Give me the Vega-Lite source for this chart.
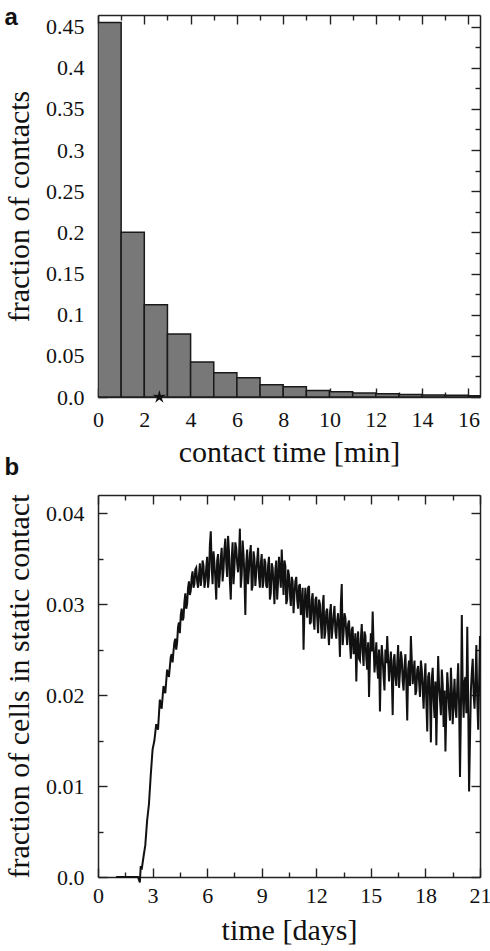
{
  "$schema": "https://vega.github.io/schema/vega-lite/v6.json",
  "padding": {"left": 4, "top": 6, "right": 0, "bottom": 0},
  "spacing": 98,
  "bounds": "flush",
  "config": {
    "view": {"stroke": null},
    "style": {"guide-label": {"font": "Liberation Serif", "fontSize": 22, "fill": "#111"}},
    "axis": {
      "domainColor": "#222",
      "domainWidth": 1.5,
      "tickColor": "#222",
      "tickWidth": 1.4,
      "grid": false,
      "minExtent": 0,
      "labelFont": "Liberation Serif",
      "labelFontSize": 22,
      "labelColor": "#111",
      "labelFlush": false,
      "labelOverlap": false,
      "labelBound": false,
      "titleFont": "Liberation Serif",
      "titleFontSize": 30,
      "titleFontWeight": "normal",
      "titleColor": "#111"
    }
  },
  "datasets": {
    "bars": [
      {"start": 0, "end": 1, "frac": 0.455},
      {"start": 1, "end": 2, "frac": 0.2},
      {"start": 2, "end": 3, "frac": 0.112},
      {"start": 3, "end": 4, "frac": 0.0765},
      {"start": 4, "end": 5, "frac": 0.0425},
      {"start": 5, "end": 6, "frac": 0.0295},
      {"start": 6, "end": 7, "frac": 0.0234},
      {"start": 7, "end": 8, "frac": 0.015},
      {"start": 8, "end": 9, "frac": 0.0125},
      {"start": 9, "end": 10, "frac": 0.008},
      {"start": 10, "end": 11, "frac": 0.0064},
      {"start": 11, "end": 12, "frac": 0.005},
      {"start": 12, "end": 13, "frac": 0.004},
      {"start": 13, "end": 14, "frac": 0.003},
      {"start": 14, "end": 15, "frac": 0.0025},
      {"start": 15, "end": 16, "frac": 0.002},
      {"start": 16, "end": 17, "frac": 0.0015}
    ],
    "star": [{"t": 2.65, "v": 0}],
    "series": [
      {"t": 1.0, "f": 0}, {"t": 1.2, "f": 0}, {"t": 1.4, "f": 0}, {"t": 1.6, "f": 0}, {"t": 1.8, "f": 0}, {"t": 2.0, "f": 0}, {"t": 2.1, "f": 0}, {"t": 2.2, "f": 0},
      {"t": 2.3, "f": -0.0006}, {"t": 2.35, "f": 0.0012}, {"t": 2.4, "f": 0.0008}, {"t": 2.5, "f": 0.0022}, {"t": 2.6, "f": 0.0035}, {"t": 2.7, "f": 0.0062}, {"t": 2.8, "f": 0.008}, {"t": 2.9, "f": 0.0112},
      {"t": 3.0, "f": 0.014}, {"t": 3.1, "f": 0.015}, {"t": 3.2, "f": 0.0168}, {"t": 3.3, "f": 0.0162}, {"t": 3.4, "f": 0.0195}, {"t": 3.5, "f": 0.0185}, {"t": 3.6, "f": 0.021}, {"t": 3.7, "f": 0.0202}, {"t": 3.8, "f": 0.0228}, {"t": 3.9, "f": 0.022},
      {"t": 4.0, "f": 0.0242}, {"t": 4.1, "f": 0.0236}, {"t": 4.2, "f": 0.0258}, {"t": 4.3, "f": 0.025}, {"t": 4.4, "f": 0.0275}, {"t": 4.5, "f": 0.0268}, {"t": 4.6, "f": 0.0295}, {"t": 4.7, "f": 0.0285}, {"t": 4.8, "f": 0.0312}, {"t": 4.9, "f": 0.03},
      {"t": 5.0, "f": 0.0325}, {"t": 5.1, "f": 0.0315}, {"t": 5.2, "f": 0.0336}, {"t": 5.3, "f": 0.0322}, {"t": 5.4, "f": 0.034}, {"t": 5.5, "f": 0.0318}, {"t": 5.6, "f": 0.0345}, {"t": 5.7, "f": 0.033}, {"t": 5.8, "f": 0.0342}, {"t": 5.9, "f": 0.0325},
      {"t": 6.0, "f": 0.0352}, {"t": 6.1, "f": 0.033}, {"t": 6.2, "f": 0.038}, {"t": 6.3, "f": 0.0322}, {"t": 6.4, "f": 0.0345}, {"t": 6.5, "f": 0.0305}, {"t": 6.6, "f": 0.0355}, {"t": 6.7, "f": 0.0332}, {"t": 6.8, "f": 0.0362}, {"t": 6.9, "f": 0.0338},
      {"t": 7.0, "f": 0.0372}, {"t": 7.1, "f": 0.033}, {"t": 7.2, "f": 0.0358}, {"t": 7.3, "f": 0.0305}, {"t": 7.4, "f": 0.0368}, {"t": 7.5, "f": 0.034}, {"t": 7.6, "f": 0.0362}, {"t": 7.7, "f": 0.0335}, {"t": 7.8, "f": 0.0383}, {"t": 7.9, "f": 0.0332},
      {"t": 8.0, "f": 0.0355}, {"t": 8.1, "f": 0.0288}, {"t": 8.2, "f": 0.036}, {"t": 8.3, "f": 0.0338}, {"t": 8.4, "f": 0.0365}, {"t": 8.5, "f": 0.032}, {"t": 8.6, "f": 0.035}, {"t": 8.7, "f": 0.0335}, {"t": 8.8, "f": 0.0362}, {"t": 8.9, "f": 0.0318},
      {"t": 9.0, "f": 0.0355}, {"t": 9.1, "f": 0.0325}, {"t": 9.2, "f": 0.0345}, {"t": 9.3, "f": 0.0318}, {"t": 9.4, "f": 0.0352}, {"t": 9.5, "f": 0.0312}, {"t": 9.6, "f": 0.034}, {"t": 9.7, "f": 0.03}, {"t": 9.8, "f": 0.0348}, {"t": 9.9, "f": 0.0325},
      {"t": 10.0, "f": 0.0335}, {"t": 10.1, "f": 0.036}, {"t": 10.2, "f": 0.031}, {"t": 10.3, "f": 0.0342}, {"t": 10.4, "f": 0.0305}, {"t": 10.5, "f": 0.0332}, {"t": 10.6, "f": 0.0298}, {"t": 10.7, "f": 0.0325}, {"t": 10.8, "f": 0.031}, {"t": 10.9, "f": 0.033},
      {"t": 11.0, "f": 0.0295}, {"t": 11.1, "f": 0.0322}, {"t": 11.2, "f": 0.03}, {"t": 11.3, "f": 0.025}, {"t": 11.4, "f": 0.0318}, {"t": 11.5, "f": 0.0285}, {"t": 11.6, "f": 0.032}, {"t": 11.7, "f": 0.028}, {"t": 11.8, "f": 0.0312}, {"t": 11.9, "f": 0.0272},
      {"t": 12.0, "f": 0.0308}, {"t": 12.1, "f": 0.0268}, {"t": 12.2, "f": 0.03}, {"t": 12.3, "f": 0.0262}, {"t": 12.4, "f": 0.031}, {"t": 12.5, "f": 0.027}, {"t": 12.6, "f": 0.0295}, {"t": 12.7, "f": 0.0255}, {"t": 12.8, "f": 0.03}, {"t": 12.9, "f": 0.0275},
      {"t": 13.0, "f": 0.0298}, {"t": 13.1, "f": 0.0262}, {"t": 13.2, "f": 0.029}, {"t": 13.3, "f": 0.0242}, {"t": 13.4, "f": 0.0322}, {"t": 13.5, "f": 0.0268}, {"t": 13.6, "f": 0.0285}, {"t": 13.7, "f": 0.0255}, {"t": 13.8, "f": 0.0282}, {"t": 13.9, "f": 0.024},
      {"t": 14.0, "f": 0.0275}, {"t": 14.1, "f": 0.025}, {"t": 14.2, "f": 0.0215}, {"t": 14.3, "f": 0.027}, {"t": 14.4, "f": 0.0238}, {"t": 14.5, "f": 0.0278}, {"t": 14.6, "f": 0.0232}, {"t": 14.7, "f": 0.0265}, {"t": 14.8, "f": 0.0228}, {"t": 14.9, "f": 0.0198},
      {"t": 15.0, "f": 0.0268}, {"t": 15.1, "f": 0.0292}, {"t": 15.2, "f": 0.0225}, {"t": 15.3, "f": 0.0258}, {"t": 15.4, "f": 0.0218}, {"t": 15.5, "f": 0.0182}, {"t": 15.6, "f": 0.0255}, {"t": 15.7, "f": 0.022}, {"t": 15.8, "f": 0.025}, {"t": 15.9, "f": 0.0265},
      {"t": 16.0, "f": 0.0215}, {"t": 16.1, "f": 0.0248}, {"t": 16.2, "f": 0.0178}, {"t": 16.3, "f": 0.0245}, {"t": 16.4, "f": 0.021}, {"t": 16.5, "f": 0.0255}, {"t": 16.6, "f": 0.0225}, {"t": 16.7, "f": 0.024}, {"t": 16.8, "f": 0.0205}, {"t": 16.9, "f": 0.0245},
      {"t": 17.0, "f": 0.0172}, {"t": 17.1, "f": 0.0238}, {"t": 17.2, "f": 0.0265}, {"t": 17.3, "f": 0.0212}, {"t": 17.4, "f": 0.0238}, {"t": 17.5, "f": 0.0205}, {"t": 17.6, "f": 0.0232}, {"t": 17.7, "f": 0.0198}, {"t": 17.8, "f": 0.0228}, {"t": 17.9, "f": 0.0185},
      {"t": 18.0, "f": 0.0235}, {"t": 18.1, "f": 0.016}, {"t": 18.2, "f": 0.0225}, {"t": 18.3, "f": 0.0148}, {"t": 18.4, "f": 0.023}, {"t": 18.5, "f": 0.0175}, {"t": 18.6, "f": 0.0145}, {"t": 18.7, "f": 0.0243}, {"t": 18.8, "f": 0.0195}, {"t": 18.9, "f": 0.0228},
      {"t": 19.0, "f": 0.0165}, {"t": 19.1, "f": 0.0138}, {"t": 19.2, "f": 0.0225}, {"t": 19.3, "f": 0.0185}, {"t": 19.4, "f": 0.023}, {"t": 19.5, "f": 0.0168}, {"t": 19.6, "f": 0.0218}, {"t": 19.7, "f": 0.0175}, {"t": 19.8, "f": 0.0235}, {"t": 19.9, "f": 0.011},
      {"t": 20.0, "f": 0.0288}, {"t": 20.1, "f": 0.0175}, {"t": 20.2, "f": 0.022}, {"t": 20.3, "f": 0.0275}, {"t": 20.4, "f": 0.0094}, {"t": 20.5, "f": 0.0205}, {"t": 20.6, "f": 0.024}, {"t": 20.7, "f": 0.0185}, {"t": 20.8, "f": 0.0255}, {"t": 20.9, "f": 0.0162},
      {"t": 21.0, "f": 0.0265},
      {"t": 4.05, "f": 0.0245}, {"t": 4.15, "f": 0.0248}, {"t": 4.25, "f": 0.0262}, {"t": 4.35, "f": 0.0258}, {"t": 4.45, "f": 0.028}, {"t": 4.55, "f": 0.0288}, {"t": 4.65, "f": 0.0282}, {"t": 4.75, "f": 0.0302}, {"t": 4.85, "f": 0.0295}, {"t": 4.95, "f": 0.0318},
      {"t": 5.05, "f": 0.031}, {"t": 5.15, "f": 0.033}, {"t": 5.25, "f": 0.0318}, {"t": 5.35, "f": 0.0338}, {"t": 5.45, "f": 0.0325}, {"t": 5.55, "f": 0.0332}, {"t": 5.65, "f": 0.032}, {"t": 5.75, "f": 0.0348}, {"t": 5.85, "f": 0.0318}, {"t": 5.95, "f": 0.034},
      {"t": 6.05, "f": 0.0318}, {"t": 6.15, "f": 0.0365}, {"t": 6.25, "f": 0.034}, {"t": 6.35, "f": 0.0358}, {"t": 6.45, "f": 0.0328}, {"t": 6.55, "f": 0.0348}, {"t": 6.65, "f": 0.0318}, {"t": 6.75, "f": 0.035}, {"t": 6.85, "f": 0.0325}, {"t": 6.95, "f": 0.036},
      {"t": 7.05, "f": 0.0345}, {"t": 7.15, "f": 0.0375}, {"t": 7.25, "f": 0.0325}, {"t": 7.35, "f": 0.035}, {"t": 7.45, "f": 0.0322}, {"t": 7.55, "f": 0.0368}, {"t": 7.65, "f": 0.0345}, {"t": 7.75, "f": 0.0352}, {"t": 7.85, "f": 0.0318}, {"t": 7.95, "f": 0.037},
      {"t": 8.05, "f": 0.033}, {"t": 8.15, "f": 0.0345}, {"t": 8.25, "f": 0.0322}, {"t": 8.35, "f": 0.0355}, {"t": 8.45, "f": 0.0315}, {"t": 8.55, "f": 0.0358}, {"t": 8.65, "f": 0.032}, {"t": 8.75, "f": 0.0348}, {"t": 8.85, "f": 0.033}, {"t": 8.95, "f": 0.0345},
      {"t": 9.05, "f": 0.0318}, {"t": 9.15, "f": 0.035}, {"t": 9.25, "f": 0.032}, {"t": 9.35, "f": 0.0342}, {"t": 9.45, "f": 0.0305}, {"t": 9.55, "f": 0.0345}, {"t": 9.65, "f": 0.0322}, {"t": 9.75, "f": 0.0338}, {"t": 9.85, "f": 0.0305}, {"t": 9.95, "f": 0.0352},
      {"t": 10.05, "f": 0.0318}, {"t": 10.15, "f": 0.0335}, {"t": 10.25, "f": 0.0348}, {"t": 10.35, "f": 0.03}, {"t": 10.45, "f": 0.0338}, {"t": 10.55, "f": 0.0312}, {"t": 10.65, "f": 0.033}, {"t": 10.75, "f": 0.029}, {"t": 10.85, "f": 0.0325}, {"t": 10.95, "f": 0.0305},
      {"t": 11.05, "f": 0.032}, {"t": 11.15, "f": 0.0288}, {"t": 11.25, "f": 0.0318}, {"t": 11.35, "f": 0.0295}, {"t": 11.45, "f": 0.0302}, {"t": 11.55, "f": 0.0318}, {"t": 11.65, "f": 0.0278}, {"t": 11.75, "f": 0.0305}, {"t": 11.85, "f": 0.0282}, {"t": 11.95, "f": 0.0305},
      {"t": 12.05, "f": 0.0285}, {"t": 12.15, "f": 0.0305}, {"t": 12.25, "f": 0.028}, {"t": 12.35, "f": 0.0298}, {"t": 12.45, "f": 0.0262}, {"t": 12.55, "f": 0.0292}, {"t": 12.65, "f": 0.0272}, {"t": 12.75, "f": 0.029}, {"t": 12.85, "f": 0.0262}, {"t": 12.95, "f": 0.0288},
      {"t": 13.05, "f": 0.027}, {"t": 13.15, "f": 0.0282}, {"t": 13.25, "f": 0.0275}, {"t": 13.35, "f": 0.03}, {"t": 13.45, "f": 0.0255}, {"t": 13.55, "f": 0.029}, {"t": 13.65, "f": 0.0268}, {"t": 13.75, "f": 0.0278}, {"t": 13.85, "f": 0.0258}, {"t": 13.95, "f": 0.0272},
      {"t": 14.05, "f": 0.0245}, {"t": 14.15, "f": 0.0268}, {"t": 14.25, "f": 0.0255}, {"t": 14.35, "f": 0.024}, {"t": 14.45, "f": 0.0262}, {"t": 14.55, "f": 0.0248}, {"t": 14.65, "f": 0.027}, {"t": 14.75, "f": 0.024}, {"t": 14.85, "f": 0.0258}, {"t": 14.95, "f": 0.024},
      {"t": 15.05, "f": 0.0248}, {"t": 15.15, "f": 0.0255}, {"t": 15.25, "f": 0.024}, {"t": 15.35, "f": 0.023}, {"t": 15.45, "f": 0.025}, {"t": 15.55, "f": 0.0232}, {"t": 15.65, "f": 0.024}, {"t": 15.75, "f": 0.0205}, {"t": 15.85, "f": 0.0235}, {"t": 15.95, "f": 0.024},
      {"t": 16.05, "f": 0.0232}, {"t": 16.15, "f": 0.0222}, {"t": 16.25, "f": 0.0238}, {"t": 16.35, "f": 0.022}, {"t": 16.45, "f": 0.0235}, {"t": 16.55, "f": 0.0208}, {"t": 16.65, "f": 0.0248}, {"t": 16.75, "f": 0.0215}, {"t": 16.85, "f": 0.0232}, {"t": 16.95, "f": 0.0212},
      {"t": 17.05, "f": 0.0228}, {"t": 17.15, "f": 0.021}, {"t": 17.25, "f": 0.0238}, {"t": 17.35, "f": 0.0225}, {"t": 17.45, "f": 0.02}, {"t": 17.55, "f": 0.0228}, {"t": 17.65, "f": 0.0215}, {"t": 17.75, "f": 0.0238}, {"t": 17.85, "f": 0.0205}, {"t": 17.95, "f": 0.0218},
      {"t": 18.05, "f": 0.0192}, {"t": 18.15, "f": 0.022}, {"t": 18.25, "f": 0.02}, {"t": 18.35, "f": 0.0218}, {"t": 18.45, "f": 0.0195}, {"t": 18.55, "f": 0.0215}, {"t": 18.65, "f": 0.0198}, {"t": 18.75, "f": 0.021}, {"t": 18.85, "f": 0.0178}, {"t": 18.95, "f": 0.0212},
      {"t": 19.05, "f": 0.0205}, {"t": 19.15, "f": 0.0185}, {"t": 19.25, "f": 0.0208}, {"t": 19.35, "f": 0.0172}, {"t": 19.45, "f": 0.0205}, {"t": 19.55, "f": 0.0195}, {"t": 19.65, "f": 0.0185}, {"t": 19.75, "f": 0.021}, {"t": 19.85, "f": 0.019}, {"t": 19.95, "f": 0.018},
      {"t": 20.05, "f": 0.0205}, {"t": 20.15, "f": 0.0215}, {"t": 20.25, "f": 0.018}, {"t": 20.35, "f": 0.0195}, {"t": 20.45, "f": 0.015}, {"t": 20.55, "f": 0.0225}, {"t": 20.65, "f": 0.02}, {"t": 20.75, "f": 0.0215}, {"t": 20.85, "f": 0.0195}, {"t": 20.95, "f": 0.021}
    ]
  },
  "vconcat": [
    {
      "width": 382,
      "height": 382,
      "title": {"text": "a", "anchor": "start", "frame": "bounds", "orient": "top", "offset": -10, "dy": 25, "baseline": "alphabetic", "font": "Liberation Sans", "fontSize": 24, "fontWeight": "bold", "color": "#111"},
      "resolve": {"axis": {"x": "independent", "y": "independent"}},
      "layer": [
        {
          "data": {"name": "bars"},
          "mark": {"type": "bar", "fill": "#787878", "stroke": "#1a1a1a", "strokeWidth": 1.5, "clip": true},
          "encoding": {
            "x": {"field": "start", "type": "quantitative", "scale": {"domain": [0, 16.5], "nice": false, "zero": false},
              "axis": {"orient": "bottom", "values": [0,1,2,3,4,5,6,7,8,9,10,11,12,13,14,15,16],
                "labelExpr": "datum.value % 2 === 0 ? format(datum.value, 'd') : ''",
                "labelFont": "Liberation Serif", "labelFontSize": 22,
                "tickSize": {"condition": {"test": "datum.value % 2 === 0", "value": -9}, "value": -5},
                "labelPadding": 21, "title": "contact time [min]", "titlePadding": 3}},
            "x2": {"field": "end"},
            "y": {"field": "frac", "type": "quantitative", "scale": {"domain": [0, 0.464], "nice": false},
              "axis": {"orient": "left", "values": [0,0.025,0.05,0.075,0.1,0.125,0.15,0.175,0.2,0.225,0.25,0.275,0.3,0.325,0.35,0.375,0.4,0.425,0.45],
                "labelExpr": "datum.value === 0 ? '0.0' : (abs(datum.value*20 - round(datum.value*20)) < 1e-6 ? format(datum.value, '~g') : '')",
                "labelFont": "Liberation Serif", "labelFontSize": 22,
                "tickSize": {"condition": {"test": "abs(datum.value*20 - round(datum.value*20)) < 1e-6", "value": -9}, "value": -5},
                "labelPadding": 23, "title": "fraction of contacts", "titlePadding": 11}},
            "y2": {"datum": 0}
          }
        },
        {
          "data": {"name": "star"},
          "mark": {"type": "point", "shape": "M0,-1L0.206,-0.283L0.951,-0.309L0.333,0.108L0.588,0.809L0,0.35L-0.588,0.809L-0.333,0.108L-0.951,-0.309L-0.206,-0.283Z", "filled": true, "fill": "#111", "size": 200, "opacity": 1},
          "encoding": {
            "x": {"field": "t", "type": "quantitative", "scale": {"domain": [0, 16.5], "nice": false, "zero": false},
              "axis": {"orient": "top", "values": [0,1,2,3,4,5,6,7,8,9,10,11,12,13,14,15,16], "labels": false, "title": null,
                "tickSize": {"condition": {"test": "datum.value % 2 === 0", "value": -9}, "value": -5}}},
            "y": {"field": "v", "type": "quantitative", "scale": {"domain": [0, 0.464], "nice": false},
              "axis": {"orient": "right", "values": [0,0.025,0.05,0.075,0.1,0.125,0.15,0.175,0.2,0.225,0.25,0.275,0.3,0.325,0.35,0.375,0.4,0.425,0.45], "labels": false, "title": null,
                "tickSize": {"condition": {"test": "abs(datum.value*20 - round(datum.value*20)) < 1e-6", "value": -9}, "value": -5}}}
          }
        }
      ]
    },
    {
      "width": 382,
      "height": 382,
      "title": {"text": "b", "anchor": "start", "frame": "bounds", "orient": "top", "offset": 20, "dy": 25, "baseline": "alphabetic", "font": "Liberation Sans", "fontSize": 24, "fontWeight": "bold", "color": "#111"},
      "data": {"name": "series"},
      "resolve": {"axis": {"x": "independent", "y": "independent"}},
      "layer": [
        {
          "mark": {"type": "line", "stroke": "#111", "strokeWidth": 2},
          "encoding": {
            "x": {"field": "t", "type": "quantitative", "scale": {"domain": [0, 21], "nice": false, "zero": false},
              "axis": {"orient": "bottom", "values": [0,1.5,3,4.5,6,7.5,9,10.5,12,13.5,15,16.5,18,19.5,21],
                "labelExpr": "datum.value % 3 === 0 ? format(datum.value, 'd') : ''",
                "labelFont": "Liberation Serif", "labelFontSize": 22,
                "tickSize": {"condition": {"test": "datum.value % 3 === 0", "value": -9}, "value": -5},
                "labelPadding": 17, "title": "time [days]", "titlePadding": 5}},
            "y": {"field": "f", "type": "quantitative", "scale": {"domain": [0, 0.042], "nice": false, "zero": false},
              "axis": {"orient": "left", "values": [0,0.005,0.01,0.015,0.02,0.025,0.03,0.035,0.04],
                "labelExpr": "datum.value === 0 ? '0.0' : (abs(datum.value*100 - round(datum.value*100)) < 1e-6 ? format(datum.value, '.2f') : '')",
                "labelFont": "Liberation Serif", "labelFontSize": 22,
                "tickSize": {"condition": {"test": "abs(datum.value*100 - round(datum.value*100)) < 1e-6", "value": -9}, "value": -5},
                "labelPadding": 23, "title": "fraction of cells in static contact", "titlePadding": 11}}
          }
        },
        {
          "mark": {"type": "line", "strokeOpacity": 0},
          "encoding": {
            "x": {"field": "t", "type": "quantitative", "scale": {"domain": [0, 21], "nice": false, "zero": false},
              "axis": {"orient": "top", "values": [0,1.5,3,4.5,6,7.5,9,10.5,12,13.5,15,16.5,18,19.5,21], "labels": false, "title": null,
                "tickSize": {"condition": {"test": "datum.value % 3 === 0", "value": -9}, "value": -5}}},
            "y": {"field": "f", "type": "quantitative", "scale": {"domain": [0, 0.042], "nice": false, "zero": false},
              "axis": {"orient": "right", "values": [0,0.005,0.01,0.015,0.02,0.025,0.03,0.035,0.04], "labels": false, "title": null,
                "tickSize": {"condition": {"test": "abs(datum.value*100 - round(datum.value*100)) < 1e-6", "value": -9}, "value": -5}}}
          }
        }
      ]
    }
  ]
}
